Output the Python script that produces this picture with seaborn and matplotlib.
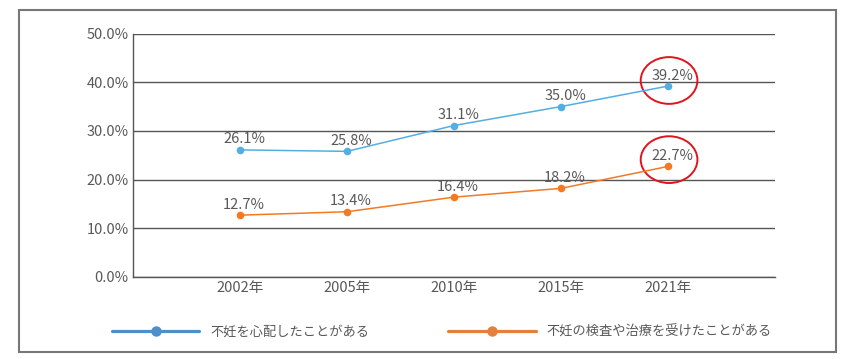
import pandas as pd
import matplotlib.pyplot as plt
import seaborn as sns
from matplotlib.lines import Line2D
from matplotlib.patches import Ellipse, Rectangle

# data
years = ["2002年", "2005年", "2010年", "2015年", "2021年"]
worried = [26.1, 25.8, 31.1, 35.0, 39.2]
treated = [12.7, 13.4, 16.4, 18.2, 22.7]
series_names = ["不妊を心配したことがある", "不妊の検査や治療を受けたことがある"]

line_colors = ["#55aee2", "#f27a25"]
legend_colors = ["#4d8fc8", "#e67f3c"]
text_gray = "#595959"

df = pd.DataFrame({
    "year": years * 2,
    "value": worried + treated,
    "series": [series_names[0]] * 5 + [series_names[1]] * 5,
})

sns.set_style("white")
plt.rcParams["font.family"] = ["Noto Sans CJK JP", "DejaVu Sans"]

fig = plt.figure(figsize=(8.5, 3.59), dpi=100)
ax = fig.add_axes([133 / 850, 1 - 277 / 359, (775 - 133) / 850, (277 - 33.5) / 359])

sns.lineplot(data=df, x="year", y="value", hue="series", palette=line_colors,
             marker="o", markersize=5.5, markeredgewidth=0, linewidth=1.1,
             legend=False, ax=ax)

# value labels
for vals in (worried, treated):
    for i, v in enumerate(vals):
        ax.annotate(f"{v:.1f}%", (i, v), xytext=(3, 7.5), textcoords="offset points",
                    ha="center", va="center", fontsize=10.5, color=text_gray)

# red circles around the 2021 values
for cy in (40.35, 24.1):
    ax.add_patch(Ellipse((4.01, cy), 0.53, 9.6, fill=False, edgecolor="#e0141e", lw=1.4))

ax.set_xlim(-1, 5)
ax.set_ylim(0, 50)
ax.set_yticks([0, 10, 20, 30, 40, 50])
ax.set_yticklabels([f"{t:.1f}%" for t in [0, 10, 20, 30, 40, 50]])
ax.set_xlabel("")
ax.set_ylabel("")
ax.tick_params(axis="both", length=0, labelsize=10.5, labelcolor=text_gray, pad=3)
ax.grid(axis="y", color="#555555", lw=1.0)
ax.set_axisbelow(True)
for s in ["top", "right"]:
    ax.spines[s].set_visible(False)
for s in ["left", "bottom"]:
    ax.spines[s].set_color("#555555")
    ax.spines[s].set_linewidth(1.0)

# legend at the bottom
handles = [Line2D([0], [0], color=c, lw=2.3, marker="o", markersize=7.5, markeredgewidth=0)
           for c in legend_colors]
fig.legend(handles, series_names, loc="center", bbox_to_anchor=(0.52, 0.075), ncol=2,
           frameon=False, handlelength=6.6, handletextpad=0.85, columnspacing=6.0,
           prop={"size": 9.5}, labelcolor=text_gray)

# outer frame
fig.patches.append(Rectangle((19 / 850, 1 - 352 / 359), (836 - 19) / 850, (352 - 10) / 359,
                             transform=fig.transFigure, fill=False,
                             edgecolor="#777777", lw=1.5))

fig.savefig("out.png", dpi=100)
